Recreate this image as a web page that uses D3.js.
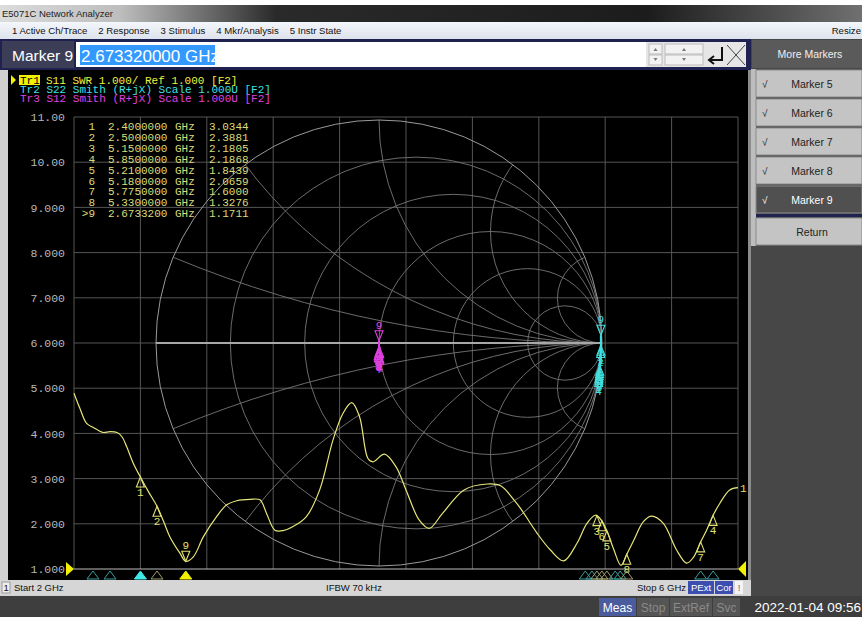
<!DOCTYPE html>
<html>
<head>
<meta charset="utf-8">
<script src="https://cdn.jsdelivr.net/npm/d3@7"></script>
<style>
  body { margin: 0; background: #fff; overflow: hidden; }
  svg { display: block; }
  .ui { font-family: 'Liberation Sans', Arial, sans-serif; }
  .mono { font-family: 'Liberation Mono', 'DejaVu Sans Mono', monospace; }
</style>
</head>
<body>
<div id="container"></div>
<script>
// Tr1 S11 SWR trace (GHz / SWR)
const swrFreqs = [2.0, 2.036, 2.076, 2.116, 2.15, 2.177, 2.217, 2.26, 2.29, 2.317, 2.357, 2.4, 2.45, 2.5,
  2.54, 2.578, 2.638, 2.67332, 2.719, 2.779, 2.859, 2.92, 2.98, 3.06, 3.12, 3.16, 3.21, 3.26, 3.32, 3.4,
  3.48, 3.56, 3.62, 3.673, 3.72, 3.77, 3.8, 3.87, 3.94, 4.0, 4.08, 4.14, 4.22, 4.35, 4.49, 4.57, 4.65,
  4.69, 4.79, 4.87, 4.95, 5.03, 5.09, 5.14, 5.15, 5.18, 5.21, 5.25, 5.295, 5.33, 5.37, 5.43, 5.48, 5.55,
  5.63, 5.69, 5.73, 5.775, 5.81, 5.85, 5.89, 5.95, 6.0];
const swrValues = [4.89, 4.55, 4.22, 4.13, 4.06, 4.02, 4.04, 4.02, 3.92, 3.71, 3.34, 3.0344, 2.7, 2.3881,
  2.05, 1.71, 1.35, 1.1711, 1.27, 1.71, 2.16, 2.42, 2.51, 2.54, 2.53, 2.23, 1.86, 1.85, 1.94, 2.16,
  2.75, 3.85, 4.44, 4.68, 4.37, 3.45, 3.37, 3.54, 3.26, 2.75, 2.08, 1.9, 2.23, 2.75, 2.88, 2.84, 2.53,
  2.34, 1.79, 1.42, 1.18, 1.57, 2.01, 2.19, 2.1805, 2.0659, 1.8439, 1.45, 1.08, 1.3276, 1.62, 2.05, 2.17, 2.01,
  1.42, 1.13, 1.25, 1.6, 1.85, 2.1868, 2.45, 2.75, 2.8];

const yTickValues = [11, 10, 9, 8, 7, 6, 5, 4, 3, 2, 1];
const yTickLabels = ['11.00', '10.00', '9.000', '8.000', '7.000', '6.000', '5.000', '4.000', '3.000', '2.000', '1.000'];
const xTickValues = [2.0, 2.4, 2.8, 3.2, 3.6, 4.0, 4.4, 4.8, 5.2, 5.6, 6.0];

// marker table
const markerNums = ['1', '2', '3', '4', '5', '6', '7', '8', '>9'];
const markerFreqs = [2.4, 2.5, 5.15, 5.85, 5.21, 5.18, 5.775, 5.33, 2.67332];
const markerValues = [3.0344, 2.3881, 2.1805, 2.1868, 1.8439, 2.0659, 1.6, 1.3276, 1.1711];

// Smith chart traces (reflection coefficient at the markers)
const s22Re = [0.995, 0.994, 0.99, 0.985, 0.988, 0.989, 0.986, 0.987, 0.995];
const s22Im = [-0.01, -0.02, -0.1, -0.15, -0.12, -0.11, -0.14, -0.13, 0.035];
const s12Re = [0.0, 0.003, -0.004, 0.004, -0.003, 0.0, 0.003, -0.002, 0.0];
const s12Im = [-0.015, -0.02, -0.03, -0.045, -0.038, -0.027, -0.05, -0.04, 0.01];
const smithR = [0.2, 0.5, 1, 2, 5];
const smithX = [0.2, 0.5, 1, 2, 5];

// marker position flags under the graticule
const flagFreqs = [2.114, 2.217, 2.4, 2.5, 2.6733, 5.08, 5.12, 5.15, 5.18, 5.21, 5.26, 5.29, 5.33, 5.775, 5.85];
const flagKinds = ['teal', 'teal', 'cyan', 'khaki', 'yellow', 'teal', 'teal', 'khaki', 'khaki', 'khaki',
  'teal', 'teal', 'khaki', 'teal', 'teal'];

const traceLabels = [
  'S11 SWR 1.000/ Ref 1.000 [F2]',
  'Tr2 S22 Smith (R+jX) Scale 1.000U [F2]',
  'Tr3 S12 Smith (R+jX) Scale 1.000U [F2]'
];
const menuItems = ['1 Active Ch/Trace', '2 Response', '3 Stimulus', '4 Mkr/Analysis', '5 Instr State'];
const softkeys = ['Marker 5', 'Marker 6', 'Marker 7', 'Marker 8', 'Marker 9'];

document.addEventListener('DOMContentLoaded', () => {
  const w = 862;
  const h = 617;
  const yellow = '#e6e67a';
  const cyan = '#3fe0e0';
  const magenta = '#e040e0';

  const svg = d3
    .select('#container')
    .append('svg')
    .attr('width', w)
    .attr('height', h);

  const defs = svg.append('defs');
  const tg = defs.append('linearGradient').attr('id', 'titlegrad');
  [['0%', '#dcdcdc'], ['14%', '#bdbdbd'], ['32%', '#2a2a2a'], ['75%', '#1c1c1c'], ['100%', '#707070']]
    .forEach(s => tg.append('stop').attr('offset', s[0]).attr('stop-color', s[1]));
  const mg = defs.append('linearGradient').attr('id', 'menugrad').attr('x2', 0).attr('y2', 1);
  [['0%', '#f4f7fb'], ['100%', '#dde3ec']]
    .forEach(s => mg.append('stop').attr('offset', s[0]).attr('stop-color', s[1]));

  // window chrome
  svg.append('rect').attr('width', w).attr('height', h).attr('fill', '#d0d0d0');
  svg.append('rect').attr('width', w).attr('height', 5).attr('fill', '#fff');
  svg.append('rect').attr('y', 5).attr('width', w).attr('height', 17).attr('fill', 'url(#titlegrad)');
  svg.append('text').attr('class', 'ui').attr('x', 2).attr('y', 17)
    .attr('font-size', 9.5).attr('fill', '#222').text('E5071C Network Analyzer');

  svg.append('rect').attr('y', 22).attr('width', w).attr('height', 17).attr('fill', 'url(#menugrad)');
  let mx = 12;
  menuItems.forEach(m => {
    const t = svg.append('text').attr('class', 'ui').attr('x', mx).attr('y', 34)
      .attr('font-size', 9.6).attr('fill', '#111').text(m);
    mx += t.node().getComputedTextLength() + 11;
  });
  svg.append('text').attr('class', 'ui').attr('x', 861).attr('y', 34).attr('text-anchor', 'end')
    .attr('font-size', 9.6).attr('fill', '#111').text('Resize');

  // entry bar
  svg.append('rect').attr('x', 0).attr('y', 39).attr('width', 751).attr('height', 31).attr('fill', '#1f2250');
  svg.append('rect').attr('x', 2).attr('y', 41).attr('width', 72).attr('height', 27).attr('fill', '#3b3e56');
  svg.append('text').attr('class', 'ui').attr('x', 12).attr('y', 61)
    .attr('font-size', 15.5).attr('fill', '#fff').text('Marker 9');
  svg.append('rect').attr('x', 76).attr('y', 42).attr('width', 570).attr('height', 25).attr('fill', '#fff');
  svg.append('rect').attr('x', 80).attr('y', 45).attr('width', 135).attr('height', 20).attr('fill', '#3399ff');
  svg.append('text').attr('class', 'ui').attr('x', 81).attr('y', 62)
    .attr('font-size', 17).attr('fill', '#fff').text('2.673320000 GHz');
  svg.append('rect').attr('x', 646).attr('y', 42).attr('width', 100).attr('height', 25).attr('fill', '#e6e6e6');
  [[649, 13], [665, 38]].forEach(b => {
    svg.append('rect').attr('x', b[0]).attr('y', 44).attr('width', b[1]).attr('height', 10)
      .attr('fill', '#f2f2f2').attr('stroke', '#bbb');
    svg.append('rect').attr('x', b[0]).attr('y', 55).attr('width', b[1]).attr('height', 10)
      .attr('fill', '#f2f2f2').attr('stroke', '#bbb');
    const cx = b[0] + b[1] / 2;
    svg.append('path').attr('d', `M${cx - 2},51L${cx + 2},51L${cx},48Z`).attr('fill', '#777');
    svg.append('path').attr('d', `M${cx - 2},58L${cx + 2},58L${cx},61Z`).attr('fill', '#777');
  });
  svg.append('path').attr('d', 'M722,47V60H710M714,56L709,60L714,64')
    .attr('fill', 'none').attr('stroke', '#111').attr('stroke-width', 2);
  svg.append('path').attr('d', 'M727,45L745,65M745,45L727,65')
    .attr('fill', 'none').attr('stroke', '#444').attr('stroke-width', 1);

  // softkey panel
  svg.append('rect').attr('x', 751).attr('y', 39).attr('width', 111).attr('height', 578).attr('fill', '#474747');
  svg.append('rect').attr('x', 752).attr('y', 40).attr('width', 110).attr('height', 28).attr('fill', '#5a5a5a');
  svg.append('text').attr('class', 'ui').attr('x', 810).attr('y', 58).attr('text-anchor', 'middle')
    .attr('font-size', 10.5).attr('fill', '#f0f0f0').text('More Markers');
  svg.append('rect').attr('x', 751).attr('y', 69).attr('width', 5).attr('height', 400).attr('fill', '#bdbdbd');
  const keys = svg.append('g').selectAll('g').data(softkeys).enter().append('g')
    .attr('transform', (d, i) => `translate(756, ${70 + i * 29})`);
  keys.append('rect').attr('width', 106).attr('height', 27)
    .attr('fill', d => (d === 'Marker 9' ? '#505050' : '#c4c4c4'))
    .attr('stroke', '#8a8a8a');
  keys.append('text').attr('class', 'ui').attr('x', 6).attr('y', 18).attr('font-size', 10)
    .attr('fill', d => (d === 'Marker 9' ? '#fff' : '#222')).text('√');
  keys.append('text').attr('class', 'ui').attr('x', 56).attr('y', 18).attr('text-anchor', 'middle')
    .attr('font-size', 10.5).attr('fill', d => (d === 'Marker 9' ? '#fff' : '#222')).text(d => d);
  svg.append('rect').attr('x', 756).attr('y', 214).attr('width', 106).attr('height', 3).attr('fill', '#1f2250');
  svg.append('rect').attr('x', 756).attr('y', 218).attr('width', 106).attr('height', 27)
    .attr('fill', '#c4c4c4').attr('stroke', '#8a8a8a');
  svg.append('text').attr('class', 'ui').attr('x', 812).attr('y', 236).attr('text-anchor', 'middle')
    .attr('font-size', 10.5).attr('fill', '#222').text('Return');
  svg.append('rect').attr('x', 751).attr('y', 246).attr('width', 111).attr('height', 350).attr('fill', '#474747');

  // measurement window
  svg.append('rect').attr('x', 8).attr('y', 70).attr('width', 740).attr('height', 510).attr('fill', '#000');
  svg.append('rect').attr('x', 748).attr('y', 70).attr('width', 3).attr('height', 525).attr('fill', '#8c8c8c');

  const xScale = d3.scaleLinear().domain([2, 6]).range([74, 738]);
  const yScale = d3.scaleLinear().domain([1, 11]).range([569, 117]);

  const grid = svg.append('g');
  grid.selectAll('.vg').data(xTickValues).enter().append('line')
    .attr('x1', d => xScale(d)).attr('x2', d => xScale(d))
    .attr('y1', yScale(11)).attr('y2', yScale(1))
    .attr('stroke', '#555');
  grid.selectAll('.hg').data(yTickValues).enter().append('line')
    .attr('x1', xScale(2)).attr('x2', xScale(6))
    .attr('y1', d => yScale(d)).attr('y2', d => yScale(d))
    .attr('stroke', d => (d === 1 ? '#bdbdbd' : '#555'));

  const yAxis = d3.axisLeft(yScale).tickValues(yTickValues)
    .tickFormat((d, i) => yTickLabels[i]).tickSize(0).tickPadding(9);
  const ya = svg.append('g').attr('transform', `translate(${xScale(2)},0)`).call(yAxis);
  ya.select('.domain').remove();
  ya.selectAll('text').attr('class', 'mono').attr('font-size', 11.5).attr('fill', '#b8b8b8');

  // Smith chart graticule
  const gx = d3.scaleLinear().domain([-1, 1]).range([156, 602]);
  const gy = d3.scaleLinear().domain([-1, 1]).range([566, 120]);
  const rad = (gx(1) - gx(-1)) / 2;
  defs.append('clipPath').attr('id', 'unit').append('circle')
    .attr('cx', gx(0)).attr('cy', gy(0)).attr('r', rad);
  const smith = svg.append('g').attr('clip-path', 'url(#unit)')
    .attr('fill', 'none').attr('stroke', '#777').attr('stroke-width', 0.9);
  smith.selectAll('.rc').data(smithR).enter().append('circle')
    .attr('cx', d => gx(d / (d + 1))).attr('cy', gy(0)).attr('r', d => rad / (d + 1));
  smith.selectAll('.xp').data(smithX).enter().append('circle')
    .attr('cx', gx(1)).attr('cy', d => gy(1 / d)).attr('r', d => rad / d);
  smith.selectAll('.xn').data(smithX).enter().append('circle')
    .attr('cx', gx(1)).attr('cy', d => gy(-1 / d)).attr('r', d => rad / d);
  svg.append('circle').attr('cx', gx(0)).attr('cy', gy(0)).attr('r', rad)
    .attr('fill', 'none').attr('stroke', '#9a9a9a');
  svg.append('line').attr('x1', gx(-1)).attr('x2', gx(1)).attr('y1', gy(0)).attr('y2', gy(0))
    .attr('stroke', '#a8a8a8').attr('stroke-width', 1.8);

  // marker glyphs
  const drawMarkers = (g, pts, color) => {
    pts.forEach(p => {
      const active = p.label === '9';
      const dy = active ? -10 : 10;
      g.append('path')
        .attr('d', `M${p.x},${p.y}L${p.x - 4},${p.y + dy}L${p.x + 4},${p.y + dy}Z`)
        .attr('fill', 'none').attr('stroke', color).attr('stroke-width', 1.1);
      g.append('text').attr('class', 'mono').attr('x', p.x).attr('y', active ? p.y - 12 : p.y + 19)
        .attr('text-anchor', 'middle').attr('font-size', 11).attr('fill', color).text(p.label);
    });
  };

  const smithLine = d3.line().x(d => gx(d[0])).y(d => gy(d[1]));
  const s22 = s22Re.map((r, i) => [r, s22Im[i]]);
  const s12 = s12Re.map((r, i) => [r, s12Im[i]]);
  svg.append('path').attr('d', smithLine(s22.slice().sort((a, b) => b[1] - a[1])))
    .attr('fill', 'none').attr('stroke', cyan).attr('stroke-width', 2);
  svg.append('path').attr('d', smithLine(s12.slice().sort((a, b) => b[1] - a[1])))
    .attr('fill', 'none').attr('stroke', magenta).attr('stroke-width', 2);
  drawMarkers(svg.append('g'), s22.map((d, i) => ({ x: gx(d[0]), y: gy(d[1]), label: String(i + 1) })), cyan);
  drawMarkers(svg.append('g'), s12.map((d, i) => ({ x: gx(d[0]), y: gy(d[1]), label: String(i + 1) })), magenta);

  // Tr1 SWR trace
  const swr = swrFreqs.map((f, i) => ({ f, v: swrValues[i] }));
  const line = d3.line().x(d => xScale(d.f)).y(d => yScale(d.v)).curve(d3.curveCatmullRom.alpha(0.5));
  svg.append('path').datum(swr).attr('d', line)
    .attr('fill', 'none').attr('stroke', yellow).attr('stroke-width', 1.2);
  drawMarkers(svg.append('g'), markerFreqs.map((f, i) => ({
    x: xScale(f), y: yScale(markerValues[i]), label: markerNums[i].replace('>', '')
  })), '#e0e070');
  svg.append('text').attr('class', 'mono').attr('x', xScale(6) + 2).attr('y', yScale(2.8) + 4)
    .attr('font-size', 11).attr('fill', '#e0e070').text('1');

  // reference level arrows
  svg.append('path').attr('d', `M${xScale(2) - 8},${yScale(1) - 7}L${xScale(2)},${yScale(1)}L${xScale(2) - 8},${yScale(1) + 7}Z`)
    .attr('fill', '#f2f200');
  svg.append('path').attr('d', `M${xScale(6)},${yScale(1)}L${xScale(6) + 8},${yScale(1) - 8}L${xScale(6) + 8},${yScale(1) + 8}Z`)
    .attr('fill', '#f2f200');

  // marker flags below the graticule
  const flagStroke = { teal: '#3a9c9c', khaki: '#a09c6c', cyan: '#40e8e8', yellow: '#f2f200' };
  svg.append('g').selectAll('path').data(flagFreqs).enter().append('path')
    .attr('d', d => `M${xScale(d)},571L${xScale(d) - 6},579L${xScale(d) + 6},579Z`)
    .attr('fill', (d, i) => (flagKinds[i] === 'cyan' || flagKinds[i] === 'yellow' ? flagStroke[flagKinds[i]] : 'none'))
    .attr('stroke', (d, i) => flagStroke[flagKinds[i]]);

  // marker readout table
  const table = svg.append('g').attr('class', 'mono').attr('font-size', 11).attr('fill', '#dcdc78');
  markerNums.forEach((n, i) => {
    const y = 130 + i * 10.9;
    table.append('text').attr('x', 95).attr('y', y).attr('text-anchor', 'end').text(n);
    table.append('text').attr('x', 108).attr('y', y).text(d3.format('.7f')(markerFreqs[i]));
    table.append('text').attr('x', 175).attr('y', y).text('GHz');
    table.append('text').attr('x', 209).attr('y', y).text(d3.format('.4f')(markerValues[i]));
  });

  // trace status lines
  svg.append('path').attr('d', 'M11,75L16,80L11,85Z').attr('fill', '#f2f200');
  svg.append('rect').attr('x', 19).attr('y', 75).attr('width', 21).attr('height', 10).attr('fill', '#f2f200');
  svg.append('text').attr('class', 'mono').attr('x', 20).attr('y', 84).attr('font-size', 11)
    .attr('fill', '#000').text('Tr1');
  svg.append('text').attr('class', 'mono').attr('x', 46).attr('y', 84).attr('font-size', 11)
    .attr('fill', '#f0f040').text(traceLabels[0]);
  svg.append('text').attr('class', 'mono').attr('x', 20).attr('y', 93).attr('font-size', 11)
    .attr('fill', cyan).text(traceLabels[1]);
  svg.append('text').attr('class', 'mono').attr('x', 20).attr('y', 102).attr('font-size', 11)
    .attr('fill', magenta).text(traceLabels[2]);

  // channel status bar
  svg.append('rect').attr('x', 0).attr('y', 580).attr('width', 751).attr('height', 15).attr('fill', '#d6d6d6');
  svg.append('rect').attr('x', 2).attr('y', 582).attr('width', 8).attr('height', 11)
    .attr('fill', '#eee').attr('stroke', '#999');
  const sb = svg.append('g').attr('class', 'ui').attr('font-size', 9.5).attr('fill', '#111');
  sb.append('text').attr('x', 3.5).attr('y', 591).text('1');
  sb.append('text').attr('x', 14).attr('y', 591).text('Start 2 GHz');
  sb.append('text').attr('x', 326).attr('y', 591).text('IFBW 70 kHz');
  sb.append('text').attr('x', 686).attr('y', 591).attr('text-anchor', 'end').text('Stop 6 GHz');
  [[688, 26, 'PExt'], [715, 18, 'Cor']].forEach(b => {
    sb.append('rect').attr('x', b[0]).attr('y', 581).attr('width', b[1]).attr('height', 13).attr('fill', '#3c4fb0');
    sb.append('text').attr('x', b[0] + b[1] / 2).attr('y', 591).attr('text-anchor', 'middle')
      .attr('fill', '#fff').text(b[2]);
  });
  sb.append('rect').attr('x', 735).attr('y', 581).attr('width', 8).attr('height', 13).attr('fill', '#f4f4f4');
  sb.append('text').attr('x', 739).attr('y', 591).attr('text-anchor', 'middle').attr('fill', '#666').text('!');

  // instrument status bar
  svg.append('rect').attr('x', 0).attr('y', 596).attr('width', w).attr('height', 21).attr('fill', '#3e3e3e');
  const ib = svg.append('g').attr('class', 'ui').attr('font-size', 12);
  [[599, 37, 'Meas', '#4a5c9e', '#fff'], [637, 32, 'Stop', '#555', '#8a8a8a'],
   [670, 42, 'ExtRef', '#555', '#8a8a8a'], [713, 27, 'Svc', '#555', '#8a8a8a']].forEach(b => {
    ib.append('rect').attr('x', b[0]).attr('y', 598).attr('width', b[1]).attr('height', 18).attr('fill', b[3]);
    ib.append('text').attr('x', b[0] + b[1] / 2).attr('y', 612).attr('text-anchor', 'middle')
      .attr('fill', b[4]).text(b[2]);
  });
  ib.append('text').attr('x', 861).attr('y', 612).attr('text-anchor', 'end').attr('font-size', 13.5)
    .attr('fill', '#fff').text('2022-01-04 09:56');
});
</script>
</body>
</html>
